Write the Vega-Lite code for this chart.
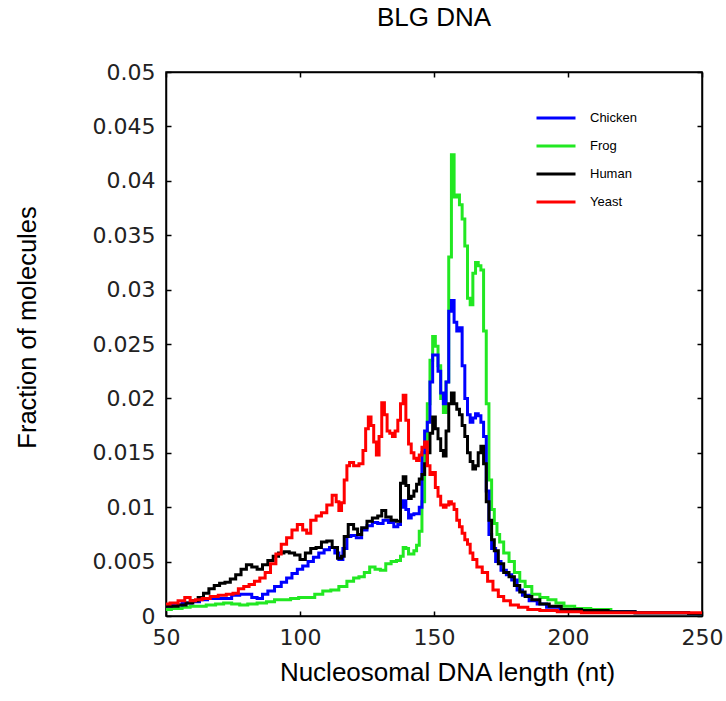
{
"$schema": "https://vega.github.io/schema/vega-lite/v6.json",
"width": 536, "height": 544,
"autosize": {"type": "none"},
"padding": {"left": 166, "top": 72, "right": 24, "bottom": 85},
"background": "white",
"title": {"text": "BLG DNA", "font": "Liberation Sans", "fontSize": 26, "fontWeight": "normal", "color": "black", "anchor": "middle", "baseline": "alphabetic", "offset": 8.7},
"config": {"view": {"stroke": "black", "strokeWidth": 1.5}},
"data": {"values": [
{"s":"Frog","nt":50,"v":0.0006},{"s":"Frog","nt":54,"v":0.0007},{"s":"Frog","nt":58,"v":0.0008},{"s":"Frog","nt":60,"v":0.0009},{"s":"Frog","nt":63,"v":0.0009},{"s":"Frog","nt":67,"v":0.001},{"s":"Frog","nt":70,"v":0.0011},{"s":"Frog","nt":73,"v":0.0012},{"s":"Frog","nt":76,"v":0.0011},{"s":"Frog","nt":79,"v":0.001},{"s":"Frog","nt":82,"v":0.0011},{"s":"Frog","nt":86,"v":0.0012},{"s":"Frog","nt":89,"v":0.0013},{"s":"Frog","nt":92,"v":0.0015},{"s":"Frog","nt":95,"v":0.0015},{"s":"Frog","nt":98,"v":0.0016},{"s":"Frog","nt":101,"v":0.0017},{"s":"Frog","nt":104,"v":0.0017},{"s":"Frog","nt":107,"v":0.002},{"s":"Frog","nt":110,"v":0.0023},{"s":"Frog","nt":113,"v":0.0024},{"s":"Frog","nt":116,"v":0.0027},{"s":"Frog","nt":119,"v":0.0032},{"s":"Frog","nt":121,"v":0.0035},{"s":"Frog","nt":123,"v":0.0036},{"s":"Frog","nt":125,"v":0.004},{"s":"Frog","nt":127,"v":0.0045},{"s":"Frog","nt":129,"v":0.0043},{"s":"Frog","nt":131,"v":0.0042},{"s":"Frog","nt":133,"v":0.0048},{"s":"Frog","nt":135,"v":0.005},{"s":"Frog","nt":137,"v":0.0051},{"s":"Frog","nt":138,"v":0.0055},{"s":"Frog","nt":139,"v":0.0063},{"s":"Frog","nt":140,"v":0.0062},{"s":"Frog","nt":141,"v":0.0057},{"s":"Frog","nt":142,"v":0.0057},{"s":"Frog","nt":143,"v":0.006},{"s":"Frog","nt":144,"v":0.0065},{"s":"Frog","nt":145,"v":0.0078},{"s":"Frog","nt":146,"v":0.0105},{"s":"Frog","nt":147,"v":0.015},{"s":"Frog","nt":148,"v":0.0195},{"s":"Frog","nt":149,"v":0.0235},{"s":"Frog","nt":150,"v":0.0257},{"s":"Frog","nt":151,"v":0.0248},{"s":"Frog","nt":152,"v":0.023},{"s":"Frog","nt":153,"v":0.02},{"s":"Frog","nt":154,"v":0.0187},{"s":"Frog","nt":155,"v":0.0215},{"s":"Frog","nt":156,"v":0.033},{"s":"Frog","nt":157,"v":0.0424},{"s":"Frog","nt":158,"v":0.0385},{"s":"Frog","nt":159,"v":0.0387},{"s":"Frog","nt":160,"v":0.0378},{"s":"Frog","nt":161,"v":0.0365},{"s":"Frog","nt":162,"v":0.034},{"s":"Frog","nt":163,"v":0.0292},{"s":"Frog","nt":164,"v":0.0286},{"s":"Frog","nt":165,"v":0.0315},{"s":"Frog","nt":166,"v":0.0325},{"s":"Frog","nt":167,"v":0.0322},{"s":"Frog","nt":168,"v":0.0318},{"s":"Frog","nt":169,"v":0.0262},{"s":"Frog","nt":170,"v":0.0195},{"s":"Frog","nt":171,"v":0.0125},{"s":"Frog","nt":172,"v":0.0098},{"s":"Frog","nt":173,"v":0.0085},{"s":"Frog","nt":174,"v":0.0075},{"s":"Frog","nt":175,"v":0.0068},{"s":"Frog","nt":177,"v":0.0058},{"s":"Frog","nt":179,"v":0.005},{"s":"Frog","nt":181,"v":0.004},{"s":"Frog","nt":183,"v":0.0032},{"s":"Frog","nt":185,"v":0.0027},{"s":"Frog","nt":188,"v":0.002},{"s":"Frog","nt":191,"v":0.0017},{"s":"Frog","nt":194,"v":0.0015},{"s":"Frog","nt":197,"v":0.0012},{"s":"Frog","nt":200,"v":0.0009},{"s":"Frog","nt":205,"v":0.0007},{"s":"Frog","nt":212,"v":0.0006},{"s":"Frog","nt":220,"v":0.0004},{"s":"Frog","nt":230,"v":0.0003},{"s":"Frog","nt":240,"v":0.0003},{"s":"Frog","nt":250,"v":0.0002},
{"s":"Chicken","nt":50,"v":0.0009},{"s":"Chicken","nt":54,"v":0.001},{"s":"Chicken","nt":58,"v":0.0012},{"s":"Chicken","nt":61,"v":0.0013},{"s":"Chicken","nt":64,"v":0.0015},{"s":"Chicken","nt":67,"v":0.0016},{"s":"Chicken","nt":70,"v":0.0016},{"s":"Chicken","nt":73,"v":0.0016},{"s":"Chicken","nt":76,"v":0.0019},{"s":"Chicken","nt":79,"v":0.002},{"s":"Chicken","nt":81,"v":0.002},{"s":"Chicken","nt":83,"v":0.0017},{"s":"Chicken","nt":85,"v":0.0016},{"s":"Chicken","nt":87,"v":0.002},{"s":"Chicken","nt":89,"v":0.0023},{"s":"Chicken","nt":92,"v":0.0027},{"s":"Chicken","nt":94,"v":0.0031},{"s":"Chicken","nt":96,"v":0.0035},{"s":"Chicken","nt":98,"v":0.0039},{"s":"Chicken","nt":100,"v":0.0043},{"s":"Chicken","nt":102,"v":0.0046},{"s":"Chicken","nt":104,"v":0.005},{"s":"Chicken","nt":106,"v":0.0054},{"s":"Chicken","nt":108,"v":0.0058},{"s":"Chicken","nt":110,"v":0.0061},{"s":"Chicken","nt":112,"v":0.0063},{"s":"Chicken","nt":114,"v":0.0058},{"s":"Chicken","nt":115,"v":0.0052},{"s":"Chicken","nt":117,"v":0.0062},{"s":"Chicken","nt":118,"v":0.0073},{"s":"Chicken","nt":120,"v":0.0074},{"s":"Chicken","nt":122,"v":0.0072},{"s":"Chicken","nt":124,"v":0.0079},{"s":"Chicken","nt":126,"v":0.0083},{"s":"Chicken","nt":128,"v":0.0086},{"s":"Chicken","nt":130,"v":0.0085},{"s":"Chicken","nt":132,"v":0.0088},{"s":"Chicken","nt":134,"v":0.0086},{"s":"Chicken","nt":136,"v":0.0082},{"s":"Chicken","nt":137,"v":0.0084},{"s":"Chicken","nt":138,"v":0.01},{"s":"Chicken","nt":139,"v":0.0106},{"s":"Chicken","nt":140,"v":0.0098},{"s":"Chicken","nt":141,"v":0.009},{"s":"Chicken","nt":142,"v":0.0093},{"s":"Chicken","nt":143,"v":0.0094},{"s":"Chicken","nt":144,"v":0.0094},{"s":"Chicken","nt":145,"v":0.01},{"s":"Chicken","nt":146,"v":0.015},{"s":"Chicken","nt":147,"v":0.017},{"s":"Chicken","nt":148,"v":0.0178},{"s":"Chicken","nt":149,"v":0.0215},{"s":"Chicken","nt":150,"v":0.024},{"s":"Chicken","nt":151,"v":0.024},{"s":"Chicken","nt":152,"v":0.0225},{"s":"Chicken","nt":153,"v":0.0205},{"s":"Chicken","nt":154,"v":0.0195},{"s":"Chicken","nt":155,"v":0.0215},{"s":"Chicken","nt":156,"v":0.028},{"s":"Chicken","nt":157,"v":0.029},{"s":"Chicken","nt":158,"v":0.027},{"s":"Chicken","nt":159,"v":0.0262},{"s":"Chicken","nt":160,"v":0.0265},{"s":"Chicken","nt":161,"v":0.023},{"s":"Chicken","nt":162,"v":0.02},{"s":"Chicken","nt":163,"v":0.0185},{"s":"Chicken","nt":164,"v":0.0178},{"s":"Chicken","nt":165,"v":0.0182},{"s":"Chicken","nt":166,"v":0.0186},{"s":"Chicken","nt":167,"v":0.0184},{"s":"Chicken","nt":168,"v":0.0178},{"s":"Chicken","nt":169,"v":0.0165},{"s":"Chicken","nt":170,"v":0.0115},{"s":"Chicken","nt":171,"v":0.0075},{"s":"Chicken","nt":172,"v":0.0062},{"s":"Chicken","nt":174,"v":0.005},{"s":"Chicken","nt":176,"v":0.0042},{"s":"Chicken","nt":178,"v":0.0038},{"s":"Chicken","nt":180,"v":0.0033},{"s":"Chicken","nt":182,"v":0.0024},{"s":"Chicken","nt":184,"v":0.0019},{"s":"Chicken","nt":187,"v":0.0014},{"s":"Chicken","nt":190,"v":0.0011},{"s":"Chicken","nt":194,"v":0.0008},{"s":"Chicken","nt":200,"v":0.0006},{"s":"Chicken","nt":210,"v":0.0004},{"s":"Chicken","nt":220,"v":0.0004},{"s":"Chicken","nt":230,"v":0.0003},{"s":"Chicken","nt":240,"v":0.0003},{"s":"Chicken","nt":250,"v":0.0002},
{"s":"Human","nt":50,"v":0.0009},{"s":"Human","nt":53,"v":0.0009},{"s":"Human","nt":56,"v":0.001},{"s":"Human","nt":59,"v":0.0012},{"s":"Human","nt":61,"v":0.0014},{"s":"Human","nt":63,"v":0.0017},{"s":"Human","nt":65,"v":0.0021},{"s":"Human","nt":67,"v":0.0025},{"s":"Human","nt":69,"v":0.0028},{"s":"Human","nt":71,"v":0.003},{"s":"Human","nt":73,"v":0.0031},{"s":"Human","nt":75,"v":0.0034},{"s":"Human","nt":77,"v":0.0038},{"s":"Human","nt":79,"v":0.0043},{"s":"Human","nt":81,"v":0.0047},{"s":"Human","nt":83,"v":0.0045},{"s":"Human","nt":85,"v":0.0043},{"s":"Human","nt":87,"v":0.0047},{"s":"Human","nt":89,"v":0.0051},{"s":"Human","nt":91,"v":0.0055},{"s":"Human","nt":93,"v":0.0058},{"s":"Human","nt":95,"v":0.0059},{"s":"Human","nt":97,"v":0.0058},{"s":"Human","nt":99,"v":0.0056},{"s":"Human","nt":101,"v":0.0052},{"s":"Human","nt":103,"v":0.0058},{"s":"Human","nt":105,"v":0.0062},{"s":"Human","nt":107,"v":0.0063},{"s":"Human","nt":109,"v":0.0068},{"s":"Human","nt":111,"v":0.0069},{"s":"Human","nt":113,"v":0.0063},{"s":"Human","nt":115,"v":0.0053},{"s":"Human","nt":116,"v":0.0055},{"s":"Human","nt":117,"v":0.0073},{"s":"Human","nt":119,"v":0.0084},{"s":"Human","nt":121,"v":0.008},{"s":"Human","nt":122,"v":0.0075},{"s":"Human","nt":124,"v":0.0081},{"s":"Human","nt":126,"v":0.0087},{"s":"Human","nt":128,"v":0.009},{"s":"Human","nt":130,"v":0.0092},{"s":"Human","nt":131,"v":0.0097},{"s":"Human","nt":133,"v":0.0091},{"s":"Human","nt":135,"v":0.0088},{"s":"Human","nt":137,"v":0.0087},{"s":"Human","nt":138,"v":0.0122},{"s":"Human","nt":139,"v":0.0128},{"s":"Human","nt":140,"v":0.012},{"s":"Human","nt":141,"v":0.0108},{"s":"Human","nt":142,"v":0.011},{"s":"Human","nt":143,"v":0.0115},{"s":"Human","nt":144,"v":0.0121},{"s":"Human","nt":145,"v":0.0126},{"s":"Human","nt":146,"v":0.013},{"s":"Human","nt":147,"v":0.014},{"s":"Human","nt":148,"v":0.015},{"s":"Human","nt":149,"v":0.0168},{"s":"Human","nt":150,"v":0.0183},{"s":"Human","nt":151,"v":0.0172},{"s":"Human","nt":152,"v":0.0163},{"s":"Human","nt":153,"v":0.0152},{"s":"Human","nt":154,"v":0.0147},{"s":"Human","nt":155,"v":0.017},{"s":"Human","nt":156,"v":0.0195},{"s":"Human","nt":157,"v":0.0205},{"s":"Human","nt":158,"v":0.0195},{"s":"Human","nt":159,"v":0.019},{"s":"Human","nt":160,"v":0.0185},{"s":"Human","nt":161,"v":0.0175},{"s":"Human","nt":162,"v":0.0165},{"s":"Human","nt":163,"v":0.015},{"s":"Human","nt":164,"v":0.0142},{"s":"Human","nt":165,"v":0.0135},{"s":"Human","nt":166,"v":0.0138},{"s":"Human","nt":167,"v":0.015},{"s":"Human","nt":168,"v":0.0156},{"s":"Human","nt":169,"v":0.014},{"s":"Human","nt":170,"v":0.0105},{"s":"Human","nt":171,"v":0.0088},{"s":"Human","nt":172,"v":0.007},{"s":"Human","nt":173,"v":0.006},{"s":"Human","nt":175,"v":0.0048},{"s":"Human","nt":177,"v":0.004},{"s":"Human","nt":179,"v":0.0036},{"s":"Human","nt":181,"v":0.0028},{"s":"Human","nt":183,"v":0.0022},{"s":"Human","nt":185,"v":0.0018},{"s":"Human","nt":188,"v":0.0015},{"s":"Human","nt":191,"v":0.0011},{"s":"Human","nt":195,"v":0.0009},{"s":"Human","nt":200,"v":0.0006},{"s":"Human","nt":210,"v":0.0005},{"s":"Human","nt":220,"v":0.0004},{"s":"Human","nt":230,"v":0.0003},{"s":"Human","nt":240,"v":0.0003},{"s":"Human","nt":250,"v":0.0002},
{"s":"Yeast","nt":50,"v":0.0011},{"s":"Yeast","nt":53,"v":0.0012},{"s":"Yeast","nt":56,"v":0.0014},{"s":"Yeast","nt":58,"v":0.0017},{"s":"Yeast","nt":60,"v":0.0014},{"s":"Yeast","nt":62,"v":0.0015},{"s":"Yeast","nt":65,"v":0.0016},{"s":"Yeast","nt":68,"v":0.0018},{"s":"Yeast","nt":71,"v":0.0019},{"s":"Yeast","nt":74,"v":0.002},{"s":"Yeast","nt":76,"v":0.0021},{"s":"Yeast","nt":78,"v":0.0025},{"s":"Yeast","nt":80,"v":0.0027},{"s":"Yeast","nt":82,"v":0.0029},{"s":"Yeast","nt":84,"v":0.0032},{"s":"Yeast","nt":86,"v":0.0035},{"s":"Yeast","nt":88,"v":0.004},{"s":"Yeast","nt":90,"v":0.0048},{"s":"Yeast","nt":92,"v":0.0057},{"s":"Yeast","nt":94,"v":0.0066},{"s":"Yeast","nt":96,"v":0.0072},{"s":"Yeast","nt":98,"v":0.0079},{"s":"Yeast","nt":100,"v":0.0084},{"s":"Yeast","nt":102,"v":0.0079},{"s":"Yeast","nt":103,"v":0.0076},{"s":"Yeast","nt":105,"v":0.0088},{"s":"Yeast","nt":107,"v":0.0092},{"s":"Yeast","nt":109,"v":0.0095},{"s":"Yeast","nt":111,"v":0.0102},{"s":"Yeast","nt":113,"v":0.0111},{"s":"Yeast","nt":114,"v":0.0105},{"s":"Yeast","nt":115,"v":0.0097},{"s":"Yeast","nt":116,"v":0.0104},{"s":"Yeast","nt":117,"v":0.0125},{"s":"Yeast","nt":118,"v":0.0138},{"s":"Yeast","nt":119,"v":0.0141},{"s":"Yeast","nt":121,"v":0.0138},{"s":"Yeast","nt":123,"v":0.014},{"s":"Yeast","nt":124,"v":0.0152},{"s":"Yeast","nt":125,"v":0.0172},{"s":"Yeast","nt":126,"v":0.0183},{"s":"Yeast","nt":127,"v":0.0175},{"s":"Yeast","nt":128,"v":0.016},{"s":"Yeast","nt":129,"v":0.0148},{"s":"Yeast","nt":130,"v":0.0165},{"s":"Yeast","nt":131,"v":0.0196},{"s":"Yeast","nt":132,"v":0.0185},{"s":"Yeast","nt":133,"v":0.017},{"s":"Yeast","nt":134,"v":0.0168},{"s":"Yeast","nt":135,"v":0.0165},{"s":"Yeast","nt":136,"v":0.017},{"s":"Yeast","nt":137,"v":0.018},{"s":"Yeast","nt":138,"v":0.0195},{"s":"Yeast","nt":139,"v":0.0203},{"s":"Yeast","nt":140,"v":0.018},{"s":"Yeast","nt":141,"v":0.0158},{"s":"Yeast","nt":142,"v":0.015},{"s":"Yeast","nt":143,"v":0.0145},{"s":"Yeast","nt":144,"v":0.0143},{"s":"Yeast","nt":145,"v":0.0148},{"s":"Yeast","nt":146,"v":0.0155},{"s":"Yeast","nt":147,"v":0.016},{"s":"Yeast","nt":148,"v":0.0138},{"s":"Yeast","nt":149,"v":0.013},{"s":"Yeast","nt":150,"v":0.0132},{"s":"Yeast","nt":151,"v":0.0118},{"s":"Yeast","nt":152,"v":0.011},{"s":"Yeast","nt":153,"v":0.0102},{"s":"Yeast","nt":154,"v":0.01},{"s":"Yeast","nt":155,"v":0.0102},{"s":"Yeast","nt":156,"v":0.0105},{"s":"Yeast","nt":157,"v":0.0103},{"s":"Yeast","nt":158,"v":0.0098},{"s":"Yeast","nt":159,"v":0.0088},{"s":"Yeast","nt":160,"v":0.0082},{"s":"Yeast","nt":161,"v":0.0076},{"s":"Yeast","nt":162,"v":0.007},{"s":"Yeast","nt":163,"v":0.0066},{"s":"Yeast","nt":164,"v":0.0058},{"s":"Yeast","nt":165,"v":0.0052},{"s":"Yeast","nt":167,"v":0.0045},{"s":"Yeast","nt":169,"v":0.004},{"s":"Yeast","nt":171,"v":0.0032},{"s":"Yeast","nt":173,"v":0.0024},{"s":"Yeast","nt":175,"v":0.0018},{"s":"Yeast","nt":177,"v":0.0014},{"s":"Yeast","nt":180,"v":0.001},{"s":"Yeast","nt":183,"v":0.0008},{"s":"Yeast","nt":187,"v":0.0006},{"s":"Yeast","nt":192,"v":0.0005},{"s":"Yeast","nt":200,"v":0.0004},{"s":"Yeast","nt":210,"v":0.0003},{"s":"Yeast","nt":220,"v":0.0003},{"s":"Yeast","nt":230,"v":0.0003},{"s":"Yeast","nt":240,"v":0.0003},{"s":"Yeast","nt":250,"v":0.0003}
]},
"layer": [
{
"mark": {"type": "line", "strokeWidth": 3, "interpolate": "step"},
"encoding": {
"x": {"field": "nt", "type": "quantitative",
 "scale": {"domain": [50, 250], "nice": false, "zero": false},
 "axis": {"orient": "bottom", "values": [50,100,150,200,250], "grid": false, "tickSize": -5, "tickColor": "black", "tickWidth": 1.5, "domainColor": "black", "domainWidth": 1.5,
  "labelFont": "DejaVu Sans", "labelFontSize": 22, "labelColor": "#222", "labelPadding": 16, "labelFlush": false,
  "title": "Nucleosomal DNA length (nt)", "titleFont": "Liberation Sans", "titleFontSize": 26, "titleFontWeight": "normal", "titleColor": "black",
  "titleX": 281, "titleY": 56, "titleAlign": "center", "titleBaseline": "middle", "titleAnchor": null}},
"y": {"field": "v", "type": "quantitative",
 "scale": {"domain": [0, 0.05], "nice": false},
 "axis": {"orient": "left", "values": [0,0.005,0.01,0.015,0.02,0.025,0.03,0.035,0.04,0.045,0.05], "format": ".3~f", "grid": false, "tickSize": -5, "tickColor": "black", "tickWidth": 1.5, "domainColor": "black", "domainWidth": 1.5,
  "labelFont": "DejaVu Sans", "labelFontSize": 22, "labelColor": "#222", "labelPadding": 16, "labelFlush": false,
  "title": "Fraction of molecules", "titleFont": "Liberation Sans", "titleFontSize": 25.5, "titleFontWeight": "normal", "titleColor": "black",
  "titleX": -139, "titleY": 255, "titleAngle": -90, "titleAlign": "center", "titleBaseline": "middle"}},
"color": {"field": "s", "type": "nominal",
 "scale": {"domain": ["Chicken", "Frog", "Human", "Yeast"], "range": ["#0000ff", "#22e822", "#000000", "#ff0000"]},
 "legend": {"orient": "none", "legendX": 369, "legendY": 25, "title": null, "symbolType": "stroke", "symbolSize": 1521, "symbolStrokeWidth": 3, "labelFont": "Liberation Sans", "labelFontSize": 13, "labelColor": "black", "labelOffset": 13, "rowPadding": -17.7, "padding": 0}}
}
},
{
"mark": {"type": "point", "opacity": 0},
"encoding": {
"x": {"field": "nt", "type": "quantitative", "axis": {"orient": "top", "values": [50,100,150,200,250], "labels": false, "title": null, "grid": false, "tickSize": -5, "tickColor": "black", "tickWidth": 1.5, "domainColor": "black", "domainWidth": 1.5}},
"y": {"field": "v", "type": "quantitative", "axis": {"orient": "right", "values": [0,0.005,0.01,0.015,0.02,0.025,0.03,0.035,0.04,0.045,0.05], "labels": false, "title": null, "grid": false, "tickSize": -5, "tickColor": "black", "tickWidth": 1.5, "domainColor": "black", "domainWidth": 1.5}}
}
}
],
"resolve": {"axis": {"x": "independent", "y": "independent"}}
}
